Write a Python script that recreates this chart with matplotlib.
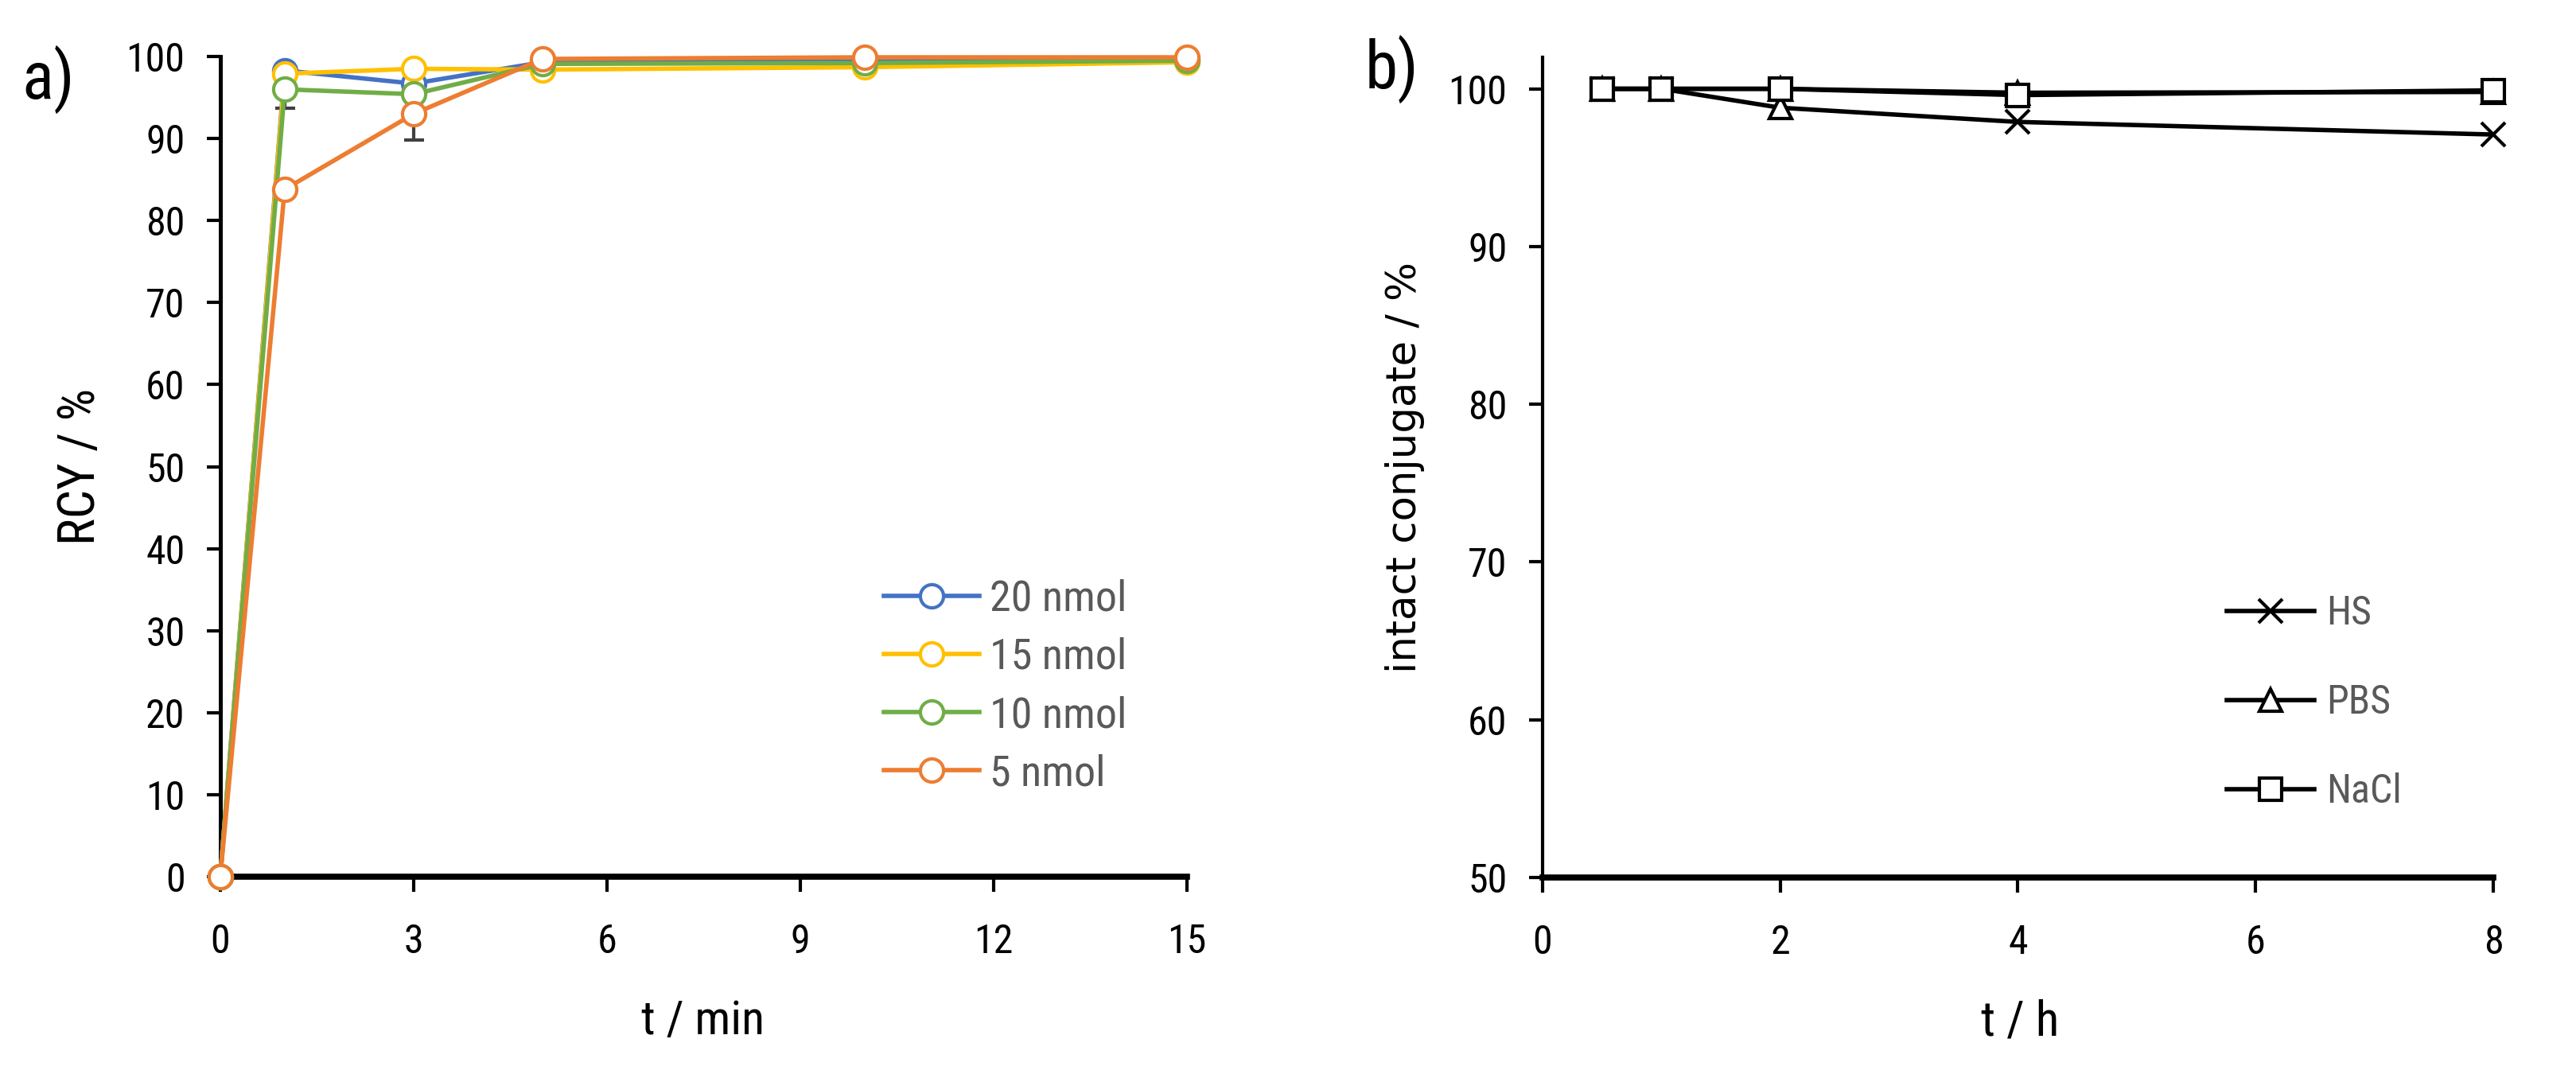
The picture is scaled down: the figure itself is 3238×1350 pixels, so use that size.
import numpy as np
import matplotlib
matplotlib.use("Agg")
import matplotlib.pyplot as plt
from matplotlib import font_manager
from matplotlib.font_manager import FontProperties

# pick a condensed face (Calibri look-alike) if one is installed
_fonts = font_manager.fontManager.ttflist
_names = {f.name for f in _fonts}
NARROW, STRETCH = "Liberation Sans", "normal"
for cand in ["Liberation Sans Narrow", "Roboto Condensed", "Open Sans Condensed",
             "Noto Sans Condensed", "DejaVu Sans Condensed"]:
    if cand in _names:
        NARROW = cand
        break
else:
    for f in _fonts:
        if f.name in ("Roboto", "Noto Sans", "Open Sans") and str(f.stretch) in (
                "condensed", "semi-condensed", "75", "87.5") and f.weight in (400, "normal", "regular"):
            NARROW, STRETCH = f.name, "condensed"
            break
plt.rcParams["font.family"] = [NARROW, "DejaVu Sans"]
plt.rcParams["font.stretch"] = STRETCH

_dv = [f.fname for f in _fonts if f.name == "DejaVu Sans"
       and f.style == "normal" and f.weight in (400, "normal")
       and str(f.stretch) in ("normal", "400", "500")]
WIDE_FP = FontProperties(fname=_dv[0], size=37) if _dv else FontProperties(
    family="DejaVu Sans", stretch="normal", size=37)

# ------------------------------------------------------------------
# panel a: radiochemical yield vs time
T_MIN = [0, 1, 3, 5, 10, 15]
RCY_20 = [0, 98.3, 96.7, 99.3, 99.4, 99.6]
RCY_15 = [0, 97.9, 98.5, 98.4, 98.7, 99.3]
RCY_10 = [0, 96.0, 95.4, 99.1, 99.2, 99.5]
RCY_5 = [0, 83.8, 93.0, 99.7, 99.9, 99.9]
ERR_10 = [0, 2.3, 0, 0, 0, 0]
ERR_5 = [0, 0, 3.2, 0, 0, 0]
ERR_0 = [0, 0, 0, 0, 0, 0]
LABELS_A = ["20 nmol", "15 nmol", "10 nmol", "5 nmol"]
XTICKS_A = [0, 3, 6, 9, 12, 15]
YTICKS_A = [0, 10, 20, 30, 40, 50, 60, 70, 80, 90, 100]

# panel b: stability of the conjugate
T_H = [0.5, 1, 2, 4, 8]
HS = [100.0, 100.0, 98.8, 97.9, 97.1]
PBS = [100.0, 100.0, 100.0, 99.75, 99.8]
NACL = [100.0, 100.0, 100.0, 99.6, 99.9]
LABELS_B = ["HS", "PBS", "NaCl"]
HS_MARKERS = ["x", "x", "^", "x", "x"]
XTICKS_B = [0, 2, 4, 6, 8]
YTICKS_B = [50, 60, 70, 80, 90, 100]

COLORS_A = ["#4472C4", "#FFC000", "#70AD47", "#ED7D31"]
LEG_GRAY = "#595959"

fig = plt.figure(figsize=(32.38, 13.5), dpi=100)
ax_a = fig.add_axes([0.0855, 0.1837, 0.3752, 0.7637])
ax_b = fig.add_axes([0.5988, 0.1830, 0.3691, 0.7637])


def style_axes(ax, lw_left, lw_bottom):
    for s in ("top", "right"):
        ax.spines[s].set_visible(False)
    ax.spines["left"].set_linewidth(lw_left)
    ax.spines["bottom"].set_linewidth(lw_bottom)
    ax.tick_params(axis="y", direction="out", length=12, width=3, pad=20,
                   labelsize=36)
    ax.tick_params(axis="x", direction="out", length=14, width=3, pad=28,
                   labelsize=36)


# ---- panel a
series_a = [(RCY_20, ERR_0), (RCY_15, ERR_0), (RCY_10, ERR_10), (RCY_5, ERR_5)]
for (vals, err), col in zip(series_a, COLORS_A):
    if any(err):
        ax_a.errorbar(T_MIN, vals, yerr=err, fmt="none", ecolor="#404040",
                      elinewidth=3, capsize=9, capthick=3, zorder=1)
for (vals, err), col, lab in zip(series_a, COLORS_A, LABELS_A):
    ax_a.plot(T_MIN, vals, color=col, lw=4, marker="o", ms=21, mew=3,
              mfc="white", mec=col, label=lab, clip_on=False, zorder=3)

ax_a.set_xlim(0, 15)
ax_a.set_ylim(0, 100)
ax_a.set_xticks(XTICKS_A)
ax_a.set_yticks(YTICKS_A)
style_axes(ax_a, 3.6, 5.5)
ax_a.set_xlabel("t / min", fontsize=43, va="center")
ax_a.xaxis.set_label_coords(0.499, -0.176)
ax_a.set_ylabel("RCY / %", fontsize=46, va="center")
ax_a.yaxis.set_label_coords(-0.145, 0.5)

leg_a = ax_a.legend(loc="upper left", bbox_to_anchor=(0.687, 0.363),
                    frameon=False, fontsize=39, handlelength=2.2,
                    handletextpad=0.25, labelspacing=0.41, borderpad=0,
                    borderaxespad=0)
for t in leg_a.get_texts():
    t.set_color(LEG_GRAY)

# ---- panel b
ax_b.plot(T_H, HS, color="black", lw=4, zorder=2, clip_on=False)
for m in ("x", "^"):
    idx = [i for i, mk in enumerate(HS_MARKERS) if mk == m]
    ax_b.plot([T_H[i] for i in idx], [HS[i] for i in idx], ls="none",
              marker=m, ms=22 if m == "x" else 20, mew=3, mfc="white",
              mec="black", zorder=3, clip_on=False)
ax_b.plot(T_H, PBS, color="black", lw=4, marker="^", ms=20, mew=3,
          mfc="white", mec="black", zorder=4, clip_on=False)
ax_b.plot(T_H, NACL, color="black", lw=4, marker="s", ms=20, mew=3,
          mfc="white", mec="black", zorder=5, clip_on=False)

# legend proxies share the plotted styles
hs_proxy = plt.Line2D([], [], color="black", lw=4, marker="x", ms=22, mew=3)
pbs_proxy = plt.Line2D([], [], color="black", lw=4, marker="^", ms=20,
                       mew=3, mfc="white")
nacl_proxy = plt.Line2D([], [], color="black", lw=4, marker="s", ms=20,
                        mew=3, mfc="white")

ax_b.set_xlim(0, 8)
ax_b.set_ylim(50, 102)
ax_b.set_xticks(XTICKS_B)
ax_b.set_yticks(YTICKS_B)
style_axes(ax_b, 3.0, 5.5)
ax_b.set_xlabel("t / h", fontsize=44, va="center")
ax_b.xaxis.set_label_coords(0.502, -0.176)
ax_b.set_ylabel("intact conjugate / %", fontproperties=WIDE_FP, va="center")
ax_b.yaxis.set_label_coords(-0.145, 0.5)

leg_b = ax_b.legend([hs_proxy, pbs_proxy, nacl_proxy], LABELS_B,
                    loc="upper left", bbox_to_anchor=(0.72, 0.345),
                    frameon=False, fontsize=36, handlelength=2.2,
                    handletextpad=0.3, labelspacing=1.28, borderpad=0,
                    borderaxespad=0)
for t in leg_b.get_texts():
    t.set_color(LEG_GRAY)

fig.text(0.0086, 0.926, "a)", fontsize=60, ha="left", va="center")
fig.text(0.5297, 0.9356, "b)", fontsize=60, ha="left", va="center")

fig.savefig("out.png", dpi=100)
